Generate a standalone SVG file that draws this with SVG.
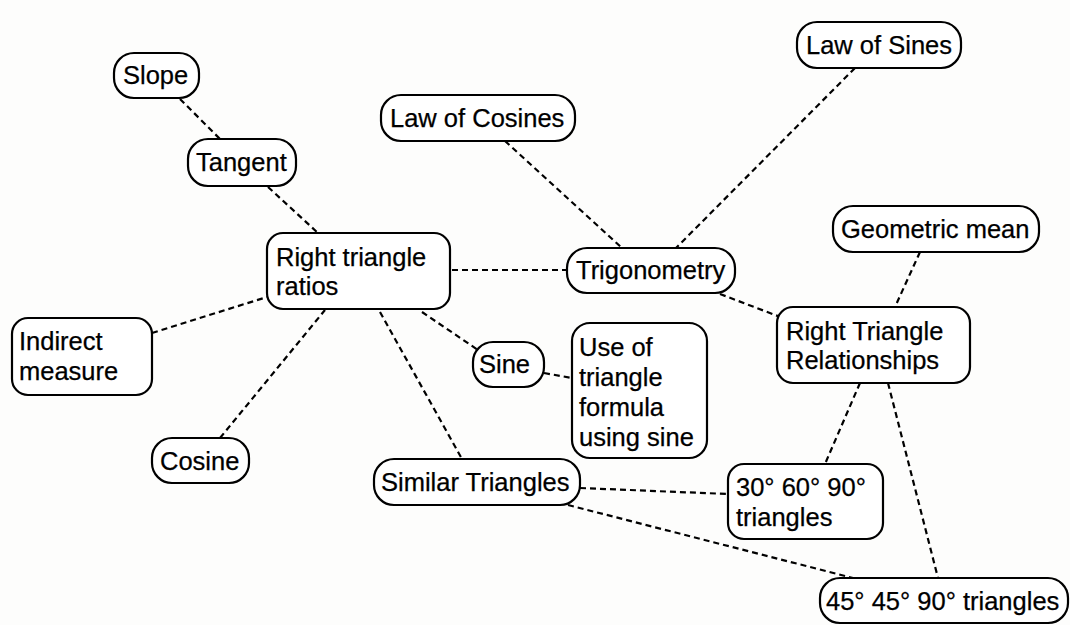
<svg xmlns="http://www.w3.org/2000/svg" width="1070" height="625" viewBox="0 0 1070 625">
<style>
.n rect{fill:#fff;stroke:#000;stroke-width:2.2}
.n text{font-family:"Liberation Sans",Arial,sans-serif;font-size:25.5px;fill:#000;stroke:#000;stroke-width:0.25}
#edges line{stroke:#000;stroke-width:2.2;stroke-dasharray:6 4;fill:none}
</style>
<rect x="0" y="0" width="1070" height="625" fill="#fdfdfc"/>
<g id="edges">
<line x1="180" y1="99" x2="220" y2="139"/>
<line x1="268" y1="187" x2="318" y2="233"/>
<line x1="505" y1="141" x2="622" y2="248"/>
<line x1="855" y1="68" x2="676" y2="248"/>
<line x1="452" y1="270" x2="567" y2="270"/>
<line x1="720" y1="294" x2="783" y2="318"/>
<line x1="920" y1="252" x2="895" y2="307"/>
<line x1="152" y1="333" x2="267" y2="297"/>
<line x1="220" y1="438" x2="325" y2="310"/>
<line x1="422" y1="312" x2="478" y2="350"/>
<line x1="380" y1="312" x2="462" y2="459"/>
<line x1="544" y1="373" x2="572" y2="378"/>
<line x1="580" y1="488" x2="728" y2="494"/>
<line x1="568" y1="505" x2="853" y2="578"/>
<line x1="860" y1="383" x2="825" y2="464"/>
<line x1="888" y1="383" x2="938" y2="578"/>
</g>
<g id="slope" class="n"><rect x="114" y="53" width="85" height="45" rx="20"/><text x="123" y="84">Slope</text></g>
<g id="tangent" class="n"><rect x="188" y="139" width="108" height="47" rx="20"/><text x="196" y="171">Tangent</text></g>
<g id="law-cosines" class="n"><rect x="381" y="95" width="194" height="46" rx="20"/><text x="390" y="127">Law of Cosines</text></g>
<g id="law-sines" class="n"><rect x="797" y="22" width="164" height="46" rx="20"/><text x="806" y="54">Law of Sines</text></g>
<g id="rt-ratios" class="n"><rect x="267" y="233" width="183" height="76" rx="16"/><text x="276" y="266">Right triangle</text><text x="276" y="295">ratios</text></g>
<g id="trigonometry" class="n"><rect x="567" y="248" width="168" height="45" rx="20"/><text x="576" y="279">Trigonometry</text></g>
<g id="geometric-mean" class="n"><rect x="833" y="206" width="206" height="46" rx="20"/><text x="841" y="238">Geometric mean</text></g>
<g id="rt-relationships" class="n"><rect x="777" y="307" width="193" height="76" rx="16"/><text x="786" y="340">Right Triangle</text><text x="786" y="369">Relationships</text></g>
<g id="indirect" class="n"><rect x="12" y="318" width="140" height="77" rx="16"/><text x="19" y="350">Indirect</text><text x="19" y="380">measure</text></g>
<g id="sine" class="n"><rect x="473" y="342" width="71" height="45" rx="20"/><text x="479" y="373">Sine</text></g>
<g id="use-formula" class="n"><rect x="572" y="323" width="135" height="135" rx="18"/><text x="579" y="356">Use of</text><text x="579" y="386">triangle</text><text x="579" y="416">formula</text><text x="579" y="446">using sine</text></g>
<g id="cosine" class="n"><rect x="152" y="438" width="97" height="45" rx="20"/><text x="160" y="470">Cosine</text></g>
<g id="similar" class="n"><rect x="374" y="459" width="206" height="46" rx="20"/><text x="381" y="491">Similar Triangles</text></g>
<g id="t306090" class="n"><rect x="728" y="464" width="155" height="75" rx="16"/><text x="736" y="496">30° 60° 90°</text><text x="736" y="526">triangles</text></g>
<g id="t454590" class="n"><rect x="820" y="578" width="248" height="45" rx="20"/><text x="826" y="610">45° 45° 90° triangles</text></g>
</svg>
